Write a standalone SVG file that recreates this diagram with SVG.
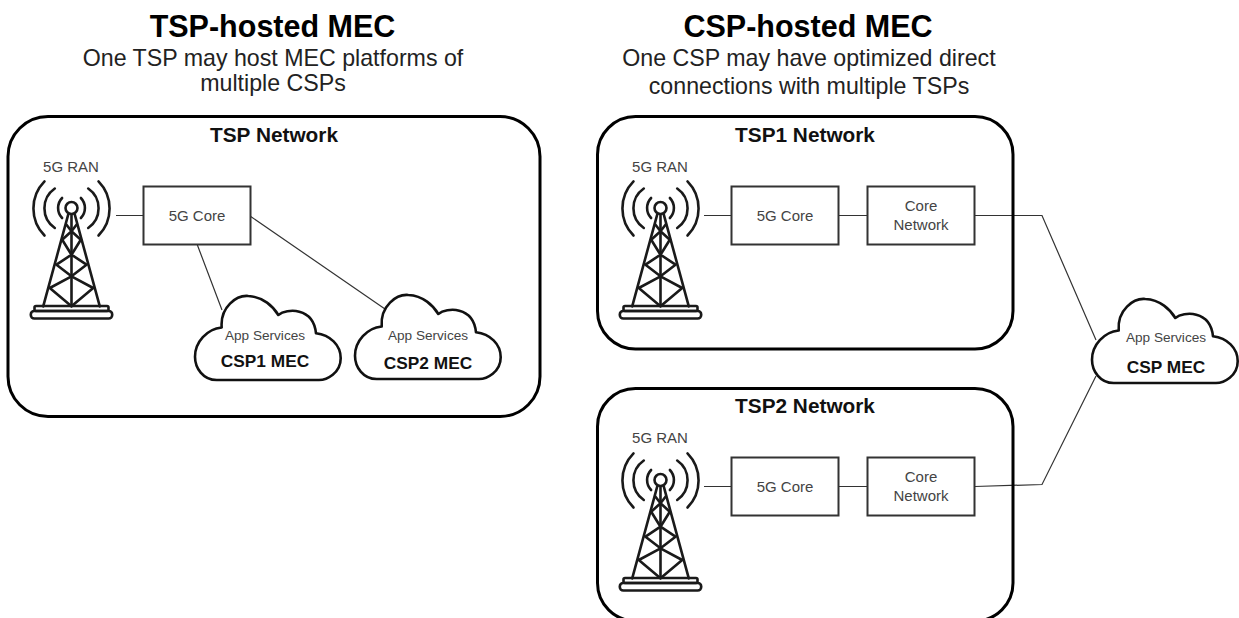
<svg xmlns="http://www.w3.org/2000/svg" width="1239" height="618" viewBox="0 0 1239 618">
<style>
text{font-family:"Liberation Sans",Arial,sans-serif;text-anchor:middle}
.title{font-size:30.5px;font-weight:bold;fill:#000}
.sub{font-size:23.2px;fill:#222}
.net{font-size:20.8px;font-weight:bold;fill:#111}
.lbl{font-size:15px;fill:#444}
.app{font-size:13.6px;fill:#444}
.mec{font-size:17.3px;font-weight:bold;fill:#111}
.frame{fill:none;stroke:#000;stroke-width:3}
.box{fill:#fff;stroke:#333;stroke-width:2}
.cloud{fill:#fff;stroke:#111;stroke-width:2.6;stroke-linejoin:round}
.conn{fill:none;stroke:#333;stroke-width:1.2}
.tw{fill:none;stroke:#1a1a1a;stroke-width:2.6;stroke-linecap:round;stroke-linejoin:round}
</style>
<defs>
<path id="cloudshape" d="M21.7 84C8 84 0 72 0 60.7C0 46 12 33 26.7 31.5C25 10.7 41.7-1 53.3 0C68.3 .7 78.3 10.7 83.3 19C91.7 12.3 118.3 10.7 121 37.3C135 39 145.7 49 145.7 62.3C145.7 77.3 131.7 84 124 84Z"/>
<g id="tower" class="tw">
<circle cx="0" cy="0" r="6"/>
<path d="M-9.400-10A14.500 14.500 0 0 0-9.400 10M9.400-10A14.500 14.500 0 0 1 9.400 10M-16.700-19.500A24 24 0 0 0-16.700 20M16.700-19.500A24 24 0 0 1 16.700 20M-27-26.600A38.600 38.600 0 0 0-27 27.500M27-26.600A38.600 38.600 0 0 1 27 27.500"/>
<path d="M-3.300 6.700L-28.300 98.300M3.300 6.700L28.300 98.300M0 7V98.300"/>
<path d="M-5 16.700L0 23.300L5 16.700M-9.300 31.700L0 23.300L9.300 31.700M-9.300 31.700L0 46.700L9.300 31.700M-15 56.700L0 46.700L15 56.700M-15 56.700L0 68.300L15 56.700M-21.700 80L0 68.300L21.700 80M-21.700 80L0 98.300L21.700 80"/>
<rect x="-37" y="98" width="74" height="5" rx="1.500"/>
<rect x="-40.700" y="103" width="81.400" height="7.500" rx="3.500"/>
</g>
</defs>
<g id="connectors">
<path class="conn" d="M116 215.500H143M197 244L222 310M250 216L385 309"/>
<path class="conn" d="M704 215.500H731M839 215.500H867M975 215.500H1042L1096 340"/>
<path class="conn" d="M704 486.500H731M839 486.500H867M975 486.500L1042 484.500L1096 376"/>
</g>
<text class="title" x="272.500" y="37">TSP-hosted MEC</text>
<text class="sub" x="273" y="66">One TSP may host MEC platforms of</text>
<text class="sub" x="273" y="91">multiple CSPs</text>
<text class="title" x="808" y="37">CSP-hosted MEC</text>
<text class="sub" x="809" y="66">One CSP may have optimized direct</text>
<text class="sub" x="809" y="94">connections with multiple TSPs</text>
<g id="tsp-network"><rect class="frame" x="8" y="116.500" width="532" height="300" rx="40"/><text class="net" x="274" y="142">TSP Network</text></g>
<g id="tsp1-network"><rect class="frame" x="597.500" y="116.500" width="415.500" height="232.500" rx="38"/><text class="net" x="805" y="142">TSP1 Network</text></g>
<g id="tsp2-network"><rect class="frame" x="597.500" y="388.500" width="415.500" height="232.500" rx="38"/><text class="net" x="805" y="413">TSP2 Network</text></g>
<g id="ran-a"><text class="lbl" x="71" y="172">5G RAN</text><use href="#tower" x="71.500" y="208"/></g>
<g id="ran-b"><text class="lbl" x="660" y="172">5G RAN</text><use href="#tower" x="660.500" y="208"/></g>
<g id="ran-c"><text class="lbl" x="660" y="443">5G RAN</text><use href="#tower" x="660.500" y="480"/></g>
<g id="core-a"><rect class="box" x="143.500" y="186.500" width="107" height="58"/><text class="lbl" x="197" y="220.500">5G Core</text></g>
<g id="core-b"><rect class="box" x="731.500" y="186.500" width="107" height="58"/><text class="lbl" x="785" y="220.500">5G Core</text></g>
<g id="corenet-b"><rect class="box" x="867.500" y="186.500" width="107" height="58"/><text class="lbl" x="921" y="210.500">Core</text><text class="lbl" x="921" y="230">Network</text></g>
<g id="core-c"><rect class="box" x="731.500" y="457.500" width="107" height="58"/><text class="lbl" x="785" y="491.500">5G Core</text></g>
<g id="corenet-c"><rect class="box" x="867.500" y="457.500" width="107" height="58"/><text class="lbl" x="921" y="481.500">Core</text><text class="lbl" x="921" y="501">Network</text></g>
<g id="cloud-csp1"><use class="cloud" href="#cloudshape" x="195" y="296"/><text class="app" x="265" y="339.500">App Services</text><text class="mec" x="265" y="367">CSP1 MEC</text></g>
<g id="cloud-csp2"><use class="cloud" href="#cloudshape" x="355" y="295"/><text class="app" x="428" y="339.500">App Services</text><text class="mec" x="428" y="369">CSP2 MEC</text></g>
<g id="cloud-csp"><use class="cloud" href="#cloudshape" x="1092" y="299"/><text class="app" x="1166" y="341.500">App Services</text><text class="mec" x="1166" y="373">CSP MEC</text></g>
</svg>
